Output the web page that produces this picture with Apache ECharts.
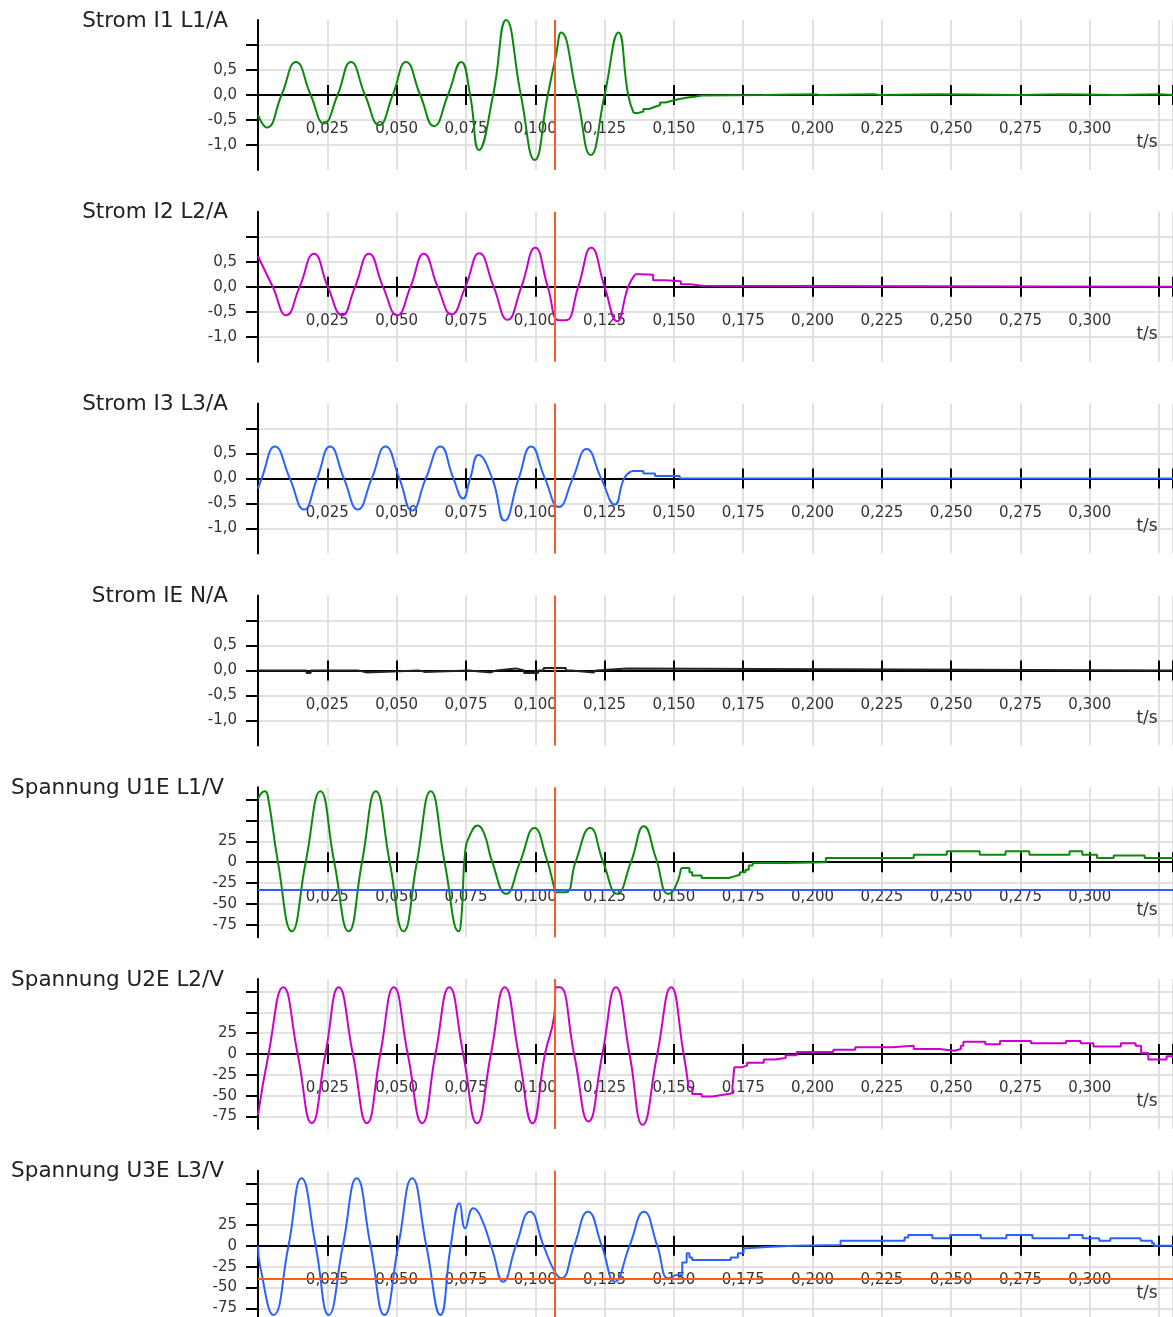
<!DOCTYPE html>
<html>
<head>
<meta charset="utf-8">
<title>Störschrieb</title>
<script src="https://cdn.jsdelivr.net/npm/echarts@6.0.0/dist/echarts.min.js"></script>
<style>
  html, body { margin: 0; padding: 0; background: #fff; }
  #chart { width: 1173px; height: 1317px; }
</style>
</head>
<body>
<div id="chart"></div>
<script>
// ============================================================
// Störschrieb – 4 Ströme, 3 Spannungen über t/s
// ============================================================

// ---- Achsen ----
var T_MAX = 0.33;
var T_TICK = 0.025;
var CURSOR_T = 0.107;

var CURRENT_TICKS = [-1, -0.5, 0, 0.5, 1];
var CURRENT_LABELS = [-1, -0.5, 0, 0.5];
var VOLTAGE_TICKS = [-75, -50, -25, 0, 25, 50, 75];
var VOLTAGE_LABELS = [-75, -50, -25, 0, 25];

var TITLES = ['Strom I1 L1/A', 'Strom I2 L2/A', 'Strom I3 L3/A', 'Strom IE N/A',
  'Spannung U1E L1/V', 'Spannung U2E L2/V', 'Spannung U3E L3/V'];

// Schwingungsteil (geglättet) + Nachlauf (Treppe)
var i1Wave = [[0, -0.4], [0.0032, -0.65], [0.0085, 0], [0.0137, 0.66], [0.019, 0], [0.0238, -0.57],
  [0.0287, 0], [0.0335, 0.66], [0.0386, 0], [0.0437, -0.6], [0.0486, 0], [0.0534, 0.66], [0.0585, 0],
  [0.0635, -0.62], [0.0685, 0], [0.0733, 0.66], [0.0765, 0], [0.0797, -1.1], [0.0848, 0], [0.0895, 1.5],
  [0.0948, 0], [0.0998, -1.3], [0.1045, 0], [0.1075, 0.8], [0.1093, 1.25], [0.115, 0], [0.12, -1.2],
  [0.125, 0], [0.13, 1.25], [0.1335, 0], [0.1355, -0.36]];
var i1Tail = [[0.1355, -0.36], [0.137, -0.33], [0.139, -0.28], [0.141, -0.24], [0.143, -0.2], [0.145, -0.15],
  [0.147, -0.12], [0.149, -0.08], [0.152, -0.05], [0.155, -0.03], [0.158, -0.01], [0.16, 0],
  [0.182, 0.015], [0.2, 0], [0.203, 0.015], [0.222, 0], [0.224, 0.015], [0.245, 0], [0.275, 0.015],
  [0.29, 0], [0.31, 0.015], [0.325, 0], [0.33, 0]];

var i2Wave = [[0, 0.61], [0.0053, 0], [0.0102, -0.57], [0.015, 0], [0.0202, 0.66], [0.0252, 0], [0.0303, -0.57],
  [0.035, 0], [0.04, 0.66], [0.0451, 0], [0.0502, -0.57], [0.055, 0], [0.0598, 0.66], [0.0648, 0],
  [0.0698, -0.55], [0.0748, 0], [0.0798, 0.67], [0.085, 0], [0.09, -0.66], [0.095, 0], [0.1, 0.78],
  [0.1045, 0], [0.1085, -0.67], [0.111, -0.67], [0.1155, 0], [0.1202, 0.78], [0.125, 0], [0.1295, -0.69],
  [0.1335, 0], [0.136, 0.25]];
var i2Tail = [[0.136, 0.25], [0.138, 0.24], [0.1425, 0.13], [0.147, 0.11], [0.1525, 0.05], [0.156, 0.02],
  [0.16, 0], [0.33, 0]];

var i3Wave = [[0, -0.2], [0.0013, 0], [0.0061, 0.64], [0.0115, 0], [0.0166, -0.62], [0.0213, 0], [0.026, 0.64],
  [0.031, 0], [0.036, -0.62], [0.041, 0], [0.046, 0.64], [0.051, 0], [0.0556, -0.64], [0.0605, 0],
  [0.0658, 0.64], [0.0705, 0], [0.0739, -0.4], [0.0765, 0], [0.0795, 0.47], [0.0845, 0], [0.0889, -0.84],
  [0.094, 0], [0.0985, 0.64], [0.1035, 0], [0.1085, -0.57], [0.1135, 0], [0.1185, 0.59], [0.1238, 0],
  [0.1287, -0.52], [0.132, 0], [0.1347, 0.15]];
var i3Tail = [[0.1347, 0.15], [0.139, 0.1], [0.1432, 0.05], [0.1521, 0], [0.33, 0]];

var ieTail = [[0, 0], [0.0175, -0.05], [0.019, 0], [0.036, -0.04], [0.039, 0], [0.058, -0.03], [0.06, 0],
  [0.076, -0.04], [0.084, 0], [0.086, 0.04], [0.093, 0], [0.096, -0.05], [0.101, 0], [0.103, 0.05],
  [0.111, 0], [0.113, -0.04], [0.121, 0], [0.122, 0.04], [0.133, 0], [0.33, 0]];

var u1Wave = [[0, 76], [0.0024, 85], [0.0035, 80], [0.0072, 0], [0.0122, -83], [0.0172, 0], [0.0225, 85],
  [0.0275, 0], [0.0327, -83], [0.0375, 0], [0.0425, 85], [0.0475, 0], [0.0525, -83], [0.0573, 0],
  [0.0623, 85], [0.0673, 0], [0.0724, -83], [0.0735, -60], [0.0747, 12], [0.0765, 33], [0.0792, 44],
  [0.0815, 35], [0.0845, 0], [0.0895, -38], [0.0945, 0], [0.0997, 41], [0.104, 5], [0.1068, -30],
  [0.1072, -36], [0.111, -36], [0.1145, 0], [0.1198, 41], [0.1245, 0], [0.1295, -38], [0.1345, 0],
  [0.1392, 43], [0.1435, 5], [0.148, -38], [0.1505, -30], [0.1526, -7]];
var u1Tail = [[0.1526, -7], [0.1556, -12], [0.1566, -16], [0.16, -19], [0.1698, -17], [0.1718, -15],
  [0.1738, -12], [0.1758, -9], [0.177, -4], [0.1784, -1], [0.19, 0], [0.2048, 5], [0.2365, 9],
  [0.2484, 13], [0.2603, 9], [0.2696, 13], [0.2782, 9], [0.2927, 13], [0.2973, 9], [0.3026, 5],
  [0.3086, 8], [0.3198, 5], [0.33, 5]];

var u2Wave = [[0, -73], [0.0038, 0], [0.0091, 80], [0.0143, 0], [0.0194, -83], [0.0243, 0], [0.0291, 80],
  [0.0342, 0], [0.0393, -83], [0.0441, 0], [0.049, 80], [0.054, 0], [0.0592, -83], [0.064, 0], [0.069, 80],
  [0.074, 0], [0.079, -83], [0.084, 0], [0.089, 80], [0.094, 0], [0.099, -83], [0.1035, 0], [0.1068, 45],
  [0.1075, 80], [0.1089, 80], [0.114, 0], [0.1192, -81], [0.1242, 0], [0.1291, 80], [0.134, 0],
  [0.1387, -85], [0.144, 0], [0.149, 80], [0.1535, 0], [0.1553, -40]];
var u2Tail = [[0.1553, -40], [0.1566, -48], [0.16, -51], [0.1639, -49], [0.1678, -47], [0.1711, -40],
  [0.1718, -16], [0.1744, -14], [0.1764, -10.5], [0.1824, -6.6], [0.1863, -4.7], [0.1903, -1.6],
  [0.1943, 2.3], [0.2075, 5], [0.2154, 8], [0.2286, 9.8], [0.2365, 5.9], [0.2458, 3.9], [0.2511, 6],
  [0.2535, 10], [0.2544, 14.8], [0.2623, 11.7], [0.2676, 15.6], [0.2788, 12.9], [0.2914, 15.6],
  [0.2967, 12.9], [0.3013, 9], [0.3112, 12.9], [0.3165, 10], [0.3185, 1.2], [0.3211, -6.6],
  [0.3277, -2.7], [0.33, -2.7]];

var u3Wave = [[0, 0], [0.0008, -25], [0.0056, -83], [0.011, 0], [0.0157, 81], [0.0208, 0], [0.0255, -83],
  [0.0306, 0], [0.0356, 81], [0.0406, 0], [0.0456, -83], [0.0506, 0], [0.0556, 81], [0.0607, 0],
  [0.0658, -83], [0.0695, 0], [0.0727, 51], [0.0747, 21], [0.0776, 45], [0.0803, 35], [0.0845, -5],
  [0.0884, -43], [0.093, 0], [0.0981, 41], [0.103, 0], [0.107, -31], [0.1094, -39], [0.114, 0],
  [0.119, 41], [0.124, 0], [0.1287, -43], [0.134, 0], [0.1392, 41], [0.144, 0], [0.148, -39],
  [0.1507, -35]];
var u3Tail = [[0.1507, -35], [0.153, -20], [0.1546, -9], [0.1556, -14], [0.1566, -17], [0.1705, -14],
  [0.1731, -9], [0.1751, -3], [0.1764, -1], [0.185, 0], [0.1936, 1], [0.2101, 6], [0.2332, 10],
  [0.2345, 13], [0.2432, 9], [0.2496, 13], [0.2607, 9], [0.2699, 13], [0.2793, 9], [0.2925, 13],
  [0.2974, 9], [0.3034, 6], [0.3074, 9], [0.3183, 6], [0.3224, 3], [0.3232, 0], [0.33, 0]];

// Hilfslinien (Cursor / Schwellen)
var U1_LEVEL = -33;
var U3_LEVEL = -40;

// ---- Darstellung ----
var GREEN = '#0a890a';
var MAGENTA = '#cc00cc';
var BLUE = '#2a62ff';
var DARK = '#222222';
var CURSOR = '#ff5a1f';
var GRID_GRAY = '#e1e1e1';
var FONT = 'DejaVu Sans';

var PANELS = [
  { wave: i1Wave, tail: i1Tail, color: GREEN, kind: 'I' },
  { wave: i2Wave, tail: i2Tail, color: MAGENTA, kind: 'I' },
  { wave: i3Wave, tail: i3Tail, color: BLUE, kind: 'I' },
  { wave: null, tail: ieTail, color: DARK, kind: 'I' },
  { wave: u1Wave, tail: u1Tail, color: GREEN, kind: 'U', level: U1_LEVEL, levelColor: BLUE },
  { wave: u2Wave, tail: u2Tail, color: MAGENTA, kind: 'U' },
  { wave: u3Wave, tail: u3Tail, color: BLUE, kind: 'U', level: U3_LEVEL, levelColor: CURSOR },
];

var W = 1173;
var GRID_LEFT = 258;
var ZERO0 = 95;
var STEP = 191.8;
var HALF = 75;

function fmtT(v) {
  var m = Math.round(v * 1000);
  if (m < 25 || m > 300) return '';
  return v.toFixed(3).replace('.', ',');
}

function buildOption() {
  var grids = [], xAxes = [], yAxes = [], series = [], graphics = [];
  var axisLine = { color: '#000', width: 2 };

  PANELS.forEach(function(p, i) {
    var zero = ZERO0 + i * STEP;
    var isU = p.kind === 'U';
    grids.push({ left: GRID_LEFT, top: zero - HALF, width: W - GRID_LEFT, height: HALF * 2, outerBoundsMode: 'none' });

    // Zeitachse liegt auf der Nulllinie: untere Achse (Striche nach unten + Beschriftung)
    // und obere Achse (Striche nach oben), beide per offset in die Mitte geschoben
    xAxes.push({
      gridIndex: i, type: 'value', position: 'bottom', offset: -HALF, min: 0, max: T_MAX, interval: T_TICK,
      axisLine: { show: true, onZero: false, lineStyle: axisLine },
      axisTick: { show: true, length: 10, lineStyle: axisLine },
      axisLabel: { margin: 27, formatter: fmtT, fontFamily: FONT, fontSize: 15, color: '#333' },
      splitLine: { show: true, lineStyle: { color: GRID_GRAY, width: 2 } },
    });
    xAxes.push({
      gridIndex: i, type: 'value', position: 'top', offset: -HALF, min: 0, max: T_MAX, interval: T_TICK,
      axisLine: { show: true, onZero: false, lineStyle: axisLine },
      axisTick: { show: true, length: 10, lineStyle: axisLine },
      axisLabel: { show: false },
      splitLine: { show: false },
    });

    yAxes.push({
      gridIndex: i, type: 'value',
      min: isU ? -90 : -1.5, max: isU ? 90 : 1.5,
      axisLine: { show: true, onZero: false, lineStyle: axisLine },
      axisTick: { show: true, length: 12, lineStyle: axisLine, customValues: isU ? VOLTAGE_TICKS : CURRENT_TICKS },
      axisLabel: {
        customValues: isU ? VOLTAGE_LABELS : CURRENT_LABELS,
        margin: 21, fontFamily: FONT, fontSize: 15, color: '#333',
        formatter: function(v) { return isU ? String(Math.round(v)) : v.toFixed(1).replace('.', ','); },
      },
      splitLine: { show: true, lineStyle: { color: GRID_GRAY, width: 2 } },
    });

    var marks = [{ xAxis: CURSOR_T }];
    if (p.level !== undefined) marks.push({ yAxis: p.level, lineStyle: { color: p.levelColor, width: 2, type: 'solid' } });
    var markLine = {
      silent: true, symbol: 'none', animation: false, precision: 4, label: { show: false },
      lineStyle: { color: CURSOR, width: 2, type: 'solid' },
      data: marks,
    };

    if (p.wave) {
      series.push({
        type: 'line', xAxisIndex: i * 2, yAxisIndex: i, data: p.wave,
        smooth: 0.5, symbol: 'none',
        lineStyle: { color: p.color, width: 2 }, itemStyle: { color: p.color },
        z: 3,
      });
    }
    series.push({
      type: 'line', xAxisIndex: i * 2, yAxisIndex: i, data: p.tail,
      step: 'end', symbol: 'none',
      lineStyle: { color: p.color, width: 2 }, itemStyle: { color: p.color },
      markLine: markLine, z: 4,
    });

    graphics.push({
      type: 'text', x: isU ? 224 : 228, y: zero - HALF + 1, z: 100,
      style: { text: TITLES[i], align: 'right', verticalAlign: 'middle', font: '21.5px "' + FONT + '"', fill: '#222' },
    });
    graphics.push({
      type: 'text', x: 1147, y: zero + 48, z: 100,
      style: { text: 't/s', align: 'center', verticalAlign: 'middle', font: '17px "' + FONT + '"', fill: '#333' },
    });
  });

  return {
    animation: false,
    backgroundColor: '#fff',
    grid: grids, xAxis: xAxes, yAxis: yAxes, series: series,
    graphic: graphics,
  };
}

var chart = echarts.init(document.getElementById('chart'), null, { renderer: 'canvas' });
chart.setOption(buildOption());
</script>
</body>
</html>
